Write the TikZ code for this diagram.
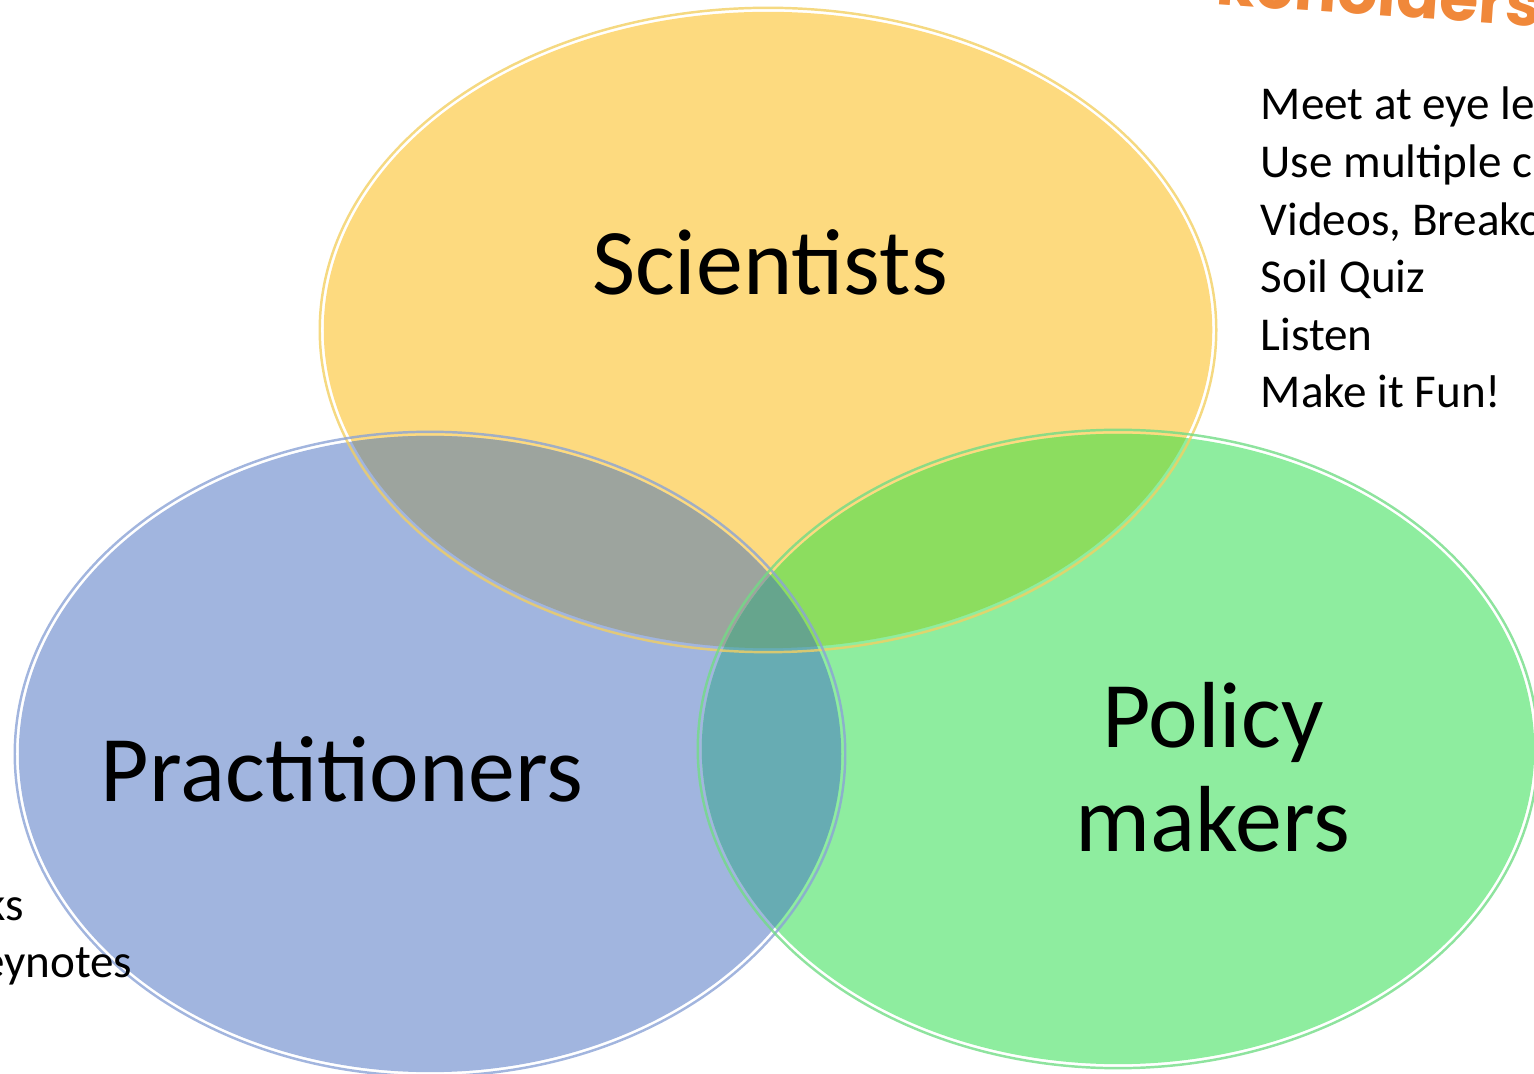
\documentclass[tikz,border=0pt]{standalone}
\usepackage{fontspec}
\setmainfont{Carlito}
\newfontfamily\titlefont{Poppins}
\definecolor{sciyellow}{HTML}{FDDA7F}
\definecolor{pracblue}{HTML}{A1B5DF}
\definecolor{polgreen}{HTML}{8EED9F}
\definecolor{sciprac}{HTML}{9DA49E}
\definecolor{scipol}{HTML}{8CDD5F}
\definecolor{pracpol}{HTML}{67ACB3}
\definecolor{allthree}{HTML}{66A58D}
\definecolor{sciedge}{HTML}{F2CF62}
\definecolor{pracedge}{HTML}{8BA3D6}
\definecolor{poledge}{HTML}{72DC86}
\definecolor{stakeorange}{HTML}{F0883A}
\tikzset{
  groupname/.style={inner sep=0pt, font=\fontsize{26.7}{29.6}\selectfont},
  tipline/.style={inner sep=0pt, anchor=base west, font=\fontsize{13.4}{16.4}\selectfont},
  rim/.style={line width=0.7pt, opacity=0.8}
}
\begin{document}
\begin{tikzpicture}[x=0.01cm,y=-0.01cm]
        \useasboundingbox (0,0) rectangle (1534,1074);
        \clip (0,0) rectangle (1534,1074);
        \def\sci{(768,330) ellipse [x radius=4.44cm, y radius=3.18cm]}
        \def\prac{(430,754) ellipse [x radius=4.11cm, y radius=3.18cm]}
        \def\pol{(1118,749) ellipse [x radius=4.16cm, y radius=3.15cm]}
        \fill [sciyellow] \sci;
        \fill [pracblue] \prac;
        \begin{scope}
            \clip \sci;
            \fill [sciprac] \prac;
        \end{scope}
        \fill [polgreen] \pol;
        \begin{scope}
            \clip \pol;
            \fill [scipol] \sci;
            \fill [pracpol] \prac;
            \clip \sci;
            \fill [allthree] \prac;
        \end{scope}
        \draw [rim, sciedge] (768,330) ellipse [x radius=4.48cm, y radius=3.22cm];
        \draw [rim, pracedge] (430,754) ellipse [x radius=4.15cm, y radius=3.22cm];
        \draw [rim, poledge] (1118,749) ellipse [x radius=4.20cm, y radius=3.19cm];
        \node [groupname, anchor=base] (scientists) at (770,295) {Scientists};
        \node [groupname, anchor=base] (practitioners) at (342,802) {Practitioners};
        \node [groupname, anchor=base] (policy) at (1213,748) {Policy};
        \node [groupname, anchor=base] (makers) at (1213,852) {makers};
        \foreach \txt [count=\i from 0] in {Meet at eye le, Use multiple c, {Videos, Breakc}, Soil Quiz, Listen, Make it Fun!}
            \node [tipline] (tip\i) at (1260,120+57.6*\i) {\txt};
        \node [inner sep=0pt, anchor=base east, font=\fontsize{13.4}{16.4}\selectfont] (talks) at (25,920) {ks};
        \node [inner sep=0pt, anchor=base east, font=\fontsize{13.4}{16.4}\selectfont] (keynotes) at (133,977) {eynotes};
        \node [inner sep=0pt, anchor=base east, rotate=-4, text=stakeorange, font=\titlefont\bfseries\fontsize{18}{20}\selectfont] (stake) at (1540,27) {keholders};
    \end{tikzpicture}
\end{document}
